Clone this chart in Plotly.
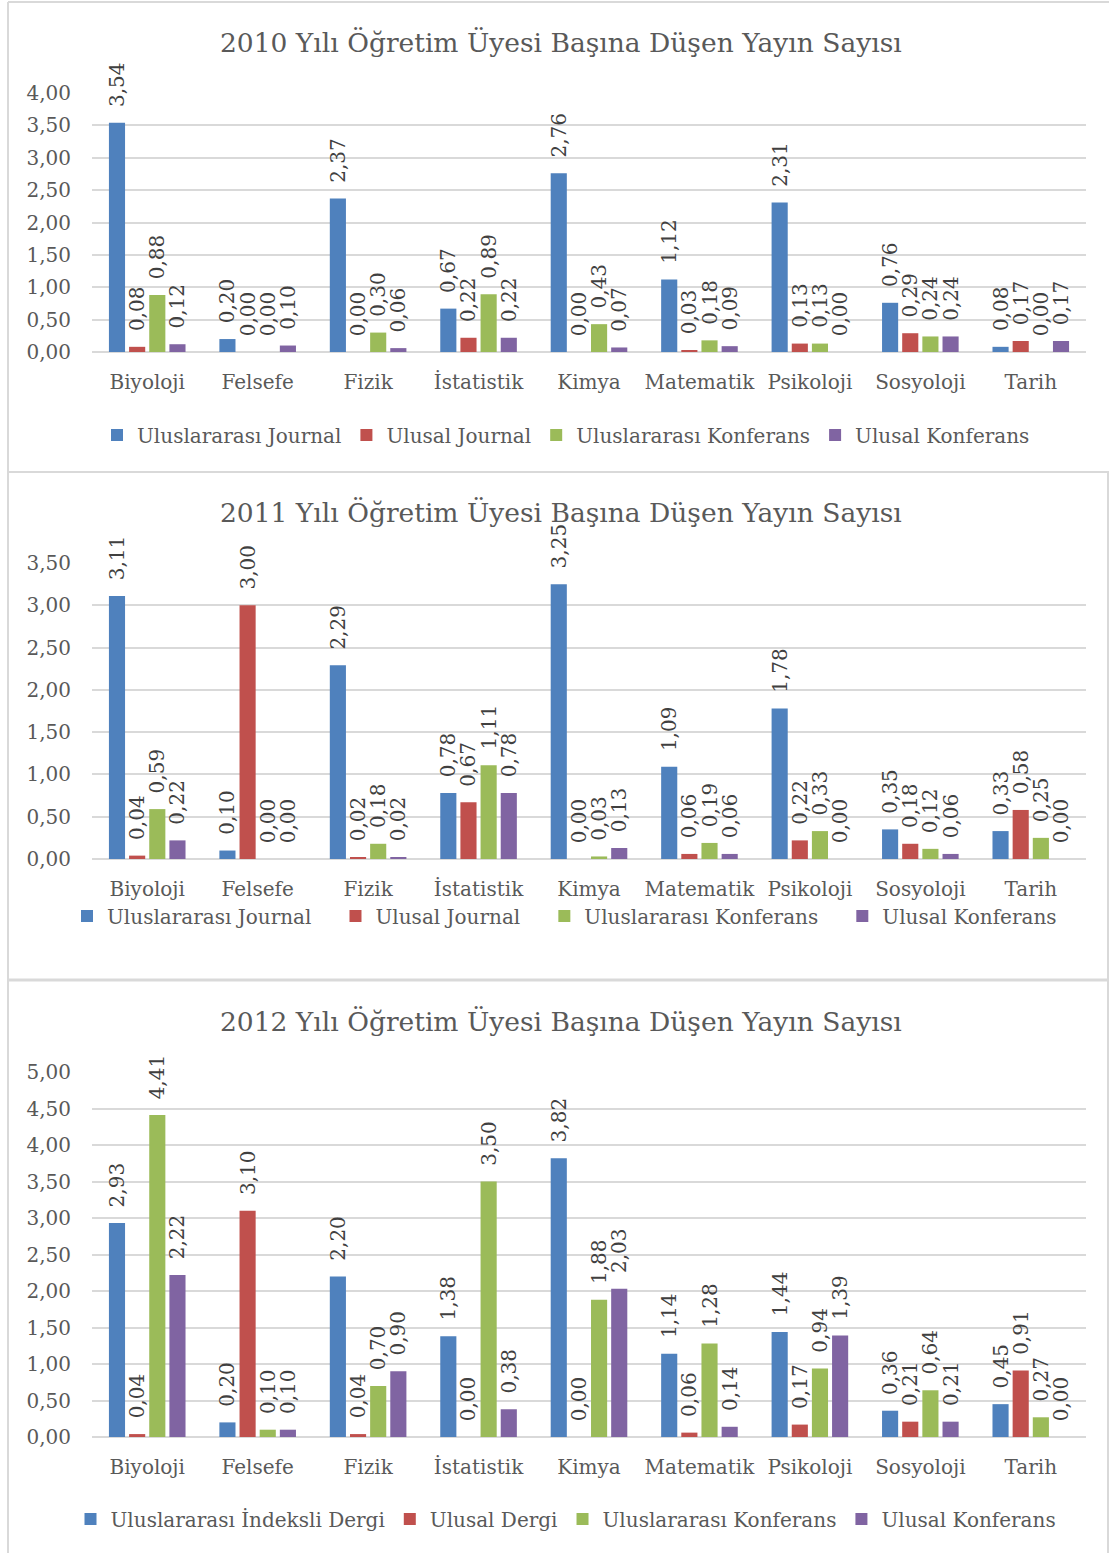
import plotly.graph_objects as go

W, H = 1109, 1553

categories = ["Biyoloji", "Felsefe", "Fizik", "İstatistik", "Kimya",
              "Matematik", "Psikoloji", "Sosyoloji", "Tarih"]

# 2010
names_2010 = ["Uluslararası Journal", "Ulusal Journal", "Uluslararası Konferans", "Ulusal Konferans"]
uj_2010 = [3.54, 0.20, 2.37, 0.67, 2.76, 1.12, 2.31, 0.76, 0.08]
ulj_2010 = [0.08, 0.00, 0.00, 0.22, 0.00, 0.03, 0.13, 0.29, 0.17]
uk_2010 = [0.88, 0.00, 0.30, 0.89, 0.43, 0.18, 0.13, 0.24, 0.00]
ulk_2010 = [0.12, 0.10, 0.06, 0.22, 0.07, 0.09, 0.00, 0.24, 0.17]

# 2011
names_2011 = ["Uluslararası Journal", "Ulusal Journal", "Uluslararası Konferans", "Ulusal Konferans"]
uj_2011 = [3.11, 0.10, 2.29, 0.78, 3.25, 1.09, 1.78, 0.35, 0.33]
ulj_2011 = [0.04, 3.00, 0.02, 0.67, 0.00, 0.06, 0.22, 0.18, 0.58]
uk_2011 = [0.59, 0.00, 0.18, 1.11, 0.03, 0.19, 0.33, 0.12, 0.25]
ulk_2011 = [0.22, 0.00, 0.02, 0.78, 0.13, 0.06, 0.00, 0.06, 0.00]

# 2012
names_2012 = ["Uluslararası İndeksli Dergi", "Ulusal Dergi", "Uluslararası Konferans", "Ulusal Konferans"]
uid_2012 = [2.93, 0.20, 2.20, 1.38, 3.82, 1.14, 1.44, 0.36, 0.45]
ud_2012 = [0.04, 3.10, 0.04, 0.00, 0.00, 0.06, 0.17, 0.21, 0.91]
uk_2012 = [4.41, 0.10, 0.70, 3.50, 1.88, 1.28, 0.94, 0.64, 0.27]
ulk_2012 = [2.22, 0.10, 0.90, 0.38, 2.03, 0.14, 1.39, 0.21, 0.00]

titles = ["2010 Yılı Öğretim Üyesi Başına Düşen Yayın Sayısı",
          "2011 Yılı Öğretim Üyesi Başına Düşen Yayın Sayısı",
          "2012 Yılı Öğretim Üyesi Başına Düşen Yayın Sayısı"]

colors = ["#4f81bd", "#c0504d", "#9bbb59", "#8064a2"]
FONT = "DejaVu Serif"
GRAY = "#595959"
NBSP = "\u00a0"


def fx(px):
    return px / W


def fy(px):
    return 1 - px / H


panels = [
    dict(names=names_2010, series=[uj_2010, ulj_2010, uk_2010, ulk_2010],
         top=93, bottom=352, ymax=4.0, title_y=42, legend_y=435, pad=0, legend_x=566),
    dict(names=names_2011, series=[uj_2011, ulj_2011, uk_2011, ulk_2011],
         top=563, bottom=859, ymax=3.5, title_y=513, legend_y=916, pad=3, legend_x=574),
    dict(names=names_2012, series=[uid_2012, ud_2012, uk_2012, ulk_2012],
         top=1072, bottom=1437, ymax=5.0, title_y=1022, legend_y=1519, pad=0, legend_x=566),
]

fig = go.Figure()
layout = dict(
    template="none",
    width=W, height=H, margin=dict(l=0, r=0, t=0, b=0, pad=0, autoexpand=False),
    paper_bgcolor="white", plot_bgcolor="white",
    separators=",.", barmode="group", bargap=0.27, bargroupgap=0.2,
    font=dict(family=FONT, color=GRAY, size=20),
    annotations=[], shapes=[],
)

for i, p in enumerate(panels):
    k = "" if i == 0 else str(i + 1)
    xa, ya = "x" + k, "y" + k
    leg = "legend" + k
    for j, (nm, vals) in enumerate(zip(p["names"], p["series"])):
        fig.add_trace(go.Bar(
            x=categories, y=vals, name=nm + NBSP * p["pad"], xaxis=xa, yaxis=ya, legend=leg,
            marker=dict(color=colors[j], line=dict(width=0)),
            texttemplate=NBSP * 2 + "%{y:.2f}", textposition="outside", textangle=-90,
            textfont=dict(family=FONT, size=20, color="#404040"),
            cliponaxis=False, constraintext="none", hoverinfo="skip",
        ))
    layout["xaxis" + k] = dict(
        domain=[fx(92), fx(1086)], anchor=ya, showgrid=False, automargin=False,
        showline=False, ticks="", tickfont=dict(size=20, color=GRAY),
        ticklabelstandoff=16, zeroline=False,
    )
    layout["yaxis" + k] = dict(
        domain=[fy(p["bottom"]), fy(p["top"])], anchor=xa, automargin=False,
        range=[0, p["ymax"]], dtick=0.5, tickformat=".2f",
        showgrid=True, gridcolor="#d9d9d9", gridwidth=1.5,
        zeroline=True, zerolinecolor="#d9d9d9", zerolinewidth=1.5,
        showline=False, ticks="", tickfont=dict(size=20, color=GRAY),
        ticklabelstandoff=20,
    )
    layout[leg] = dict(
        orientation="h", x=fx(p["legend_x"]), xanchor="center", y=fy(p["legend_y"]),
        yanchor="middle", font=dict(size=20, color=GRAY, family=FONT),
        bgcolor="rgba(0,0,0,0)", traceorder="normal", itemwidth=30,
    )
    layout["annotations"].append(dict(
        text=titles[i], x=fx(561), y=fy(p["title_y"]), xref="paper", yref="paper",
        xanchor="center", yanchor="middle", showarrow=False,
        font=dict(family=FONT, size=26.5, color=GRAY),
    ))

# panel borders
border = dict(color="#d9d9d9", width=2)
layout["shapes"] += [
    dict(type="line", xref="paper", yref="paper", x0=fx(8), x1=1, y0=fy(2), y1=fy(2), line=border),
    dict(type="line", xref="paper", yref="paper", x0=fx(8), x1=fx(8), y0=0, y1=fy(2), line=border),
    dict(type="line", xref="paper", yref="paper", x0=fx(8), x1=1, y0=fy(472), y1=fy(472), line=border),
    dict(type="line", xref="paper", yref="paper", x0=fx(8), x1=1, y0=fy(980), y1=fy(980),
         line=dict(color="#d9d9d9", width=3)),
    dict(type="line", xref="paper", yref="paper", x0=fx(1108), x1=fx(1108), y0=0, y1=fy(472), line=border),
]

fig.update_layout(**layout)
fig.write_html(
    "out.html",
    config={"displayModeBar": False},
    post_script="document.body.style.margin='0';document.body.style.overflow='hidden';",
)
